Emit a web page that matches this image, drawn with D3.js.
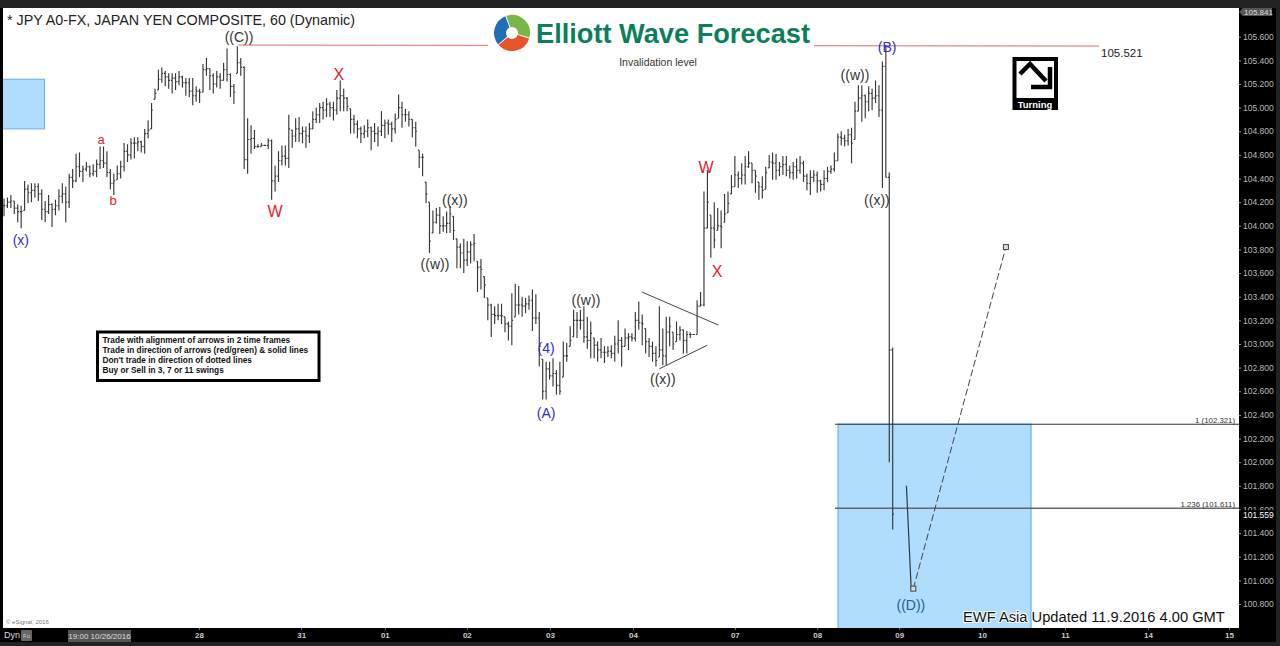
<!DOCTYPE html>
<html>
<head>
<meta charset="utf-8">
<script src="https://cdn.jsdelivr.net/npm/d3@7"></script>
<style>
html, body { margin: 0; padding: 0; background: #000; }
svg { display: block; }
text { font-family: "Liberation Sans", Arial, sans-serif; }
</style>
</head>
<body>
<svg id="chart" width="1280" height="646"></svg>
<script>
// hourly bars, left to right
let highs = [104.23,104.24,104.26,104.21,104.18,104.17,104.38,104.35,104.36,104.36,104.36,104.31,104.21,104.26,104.19,104.22,104.31,104.36,104.33,104.44,
104.48,104.61,104.62,104.51,104.54,104.51,104.52,104.56,104.67,104.67,104.63,104.48,104.44,104.51,104.55,104.70,104.69,104.74,104.75,104.75,
104.72,104.82,104.89,105.04,105.16,105.32,105.34,105.31,105.29,105.29,105.29,105.31,105.27,105.25,105.25,105.25,105.18,105.16,105.37,105.42,
105.33,105.29,105.31,105.29,105.38,105.50,105.29,105.20,105.52,105.42,105.35,104.91,104.85,104.81,104.69,104.70,104.68,104.74,104.73,104.51,
104.63,104.68,104.68,104.94,104.81,104.91,104.92,104.84,104.84,104.87,104.97,105.00,105.04,105.05,105.08,105.05,105.05,105.15,105.23,105.16,
105.09,104.99,104.94,104.89,104.84,104.85,104.90,104.84,104.87,104.84,104.97,104.90,104.90,104.88,104.95,105.11,105.05,104.99,104.97,104.90,
104.88,104.64,104.61,104.37,104.20,104.13,104.15,104.16,104.08,104.12,104.17,104.08,103.89,103.85,103.89,103.87,103.87,103.93,103.70,103.72,
103.57,103.39,103.34,103.32,103.34,103.34,103.23,103.19,103.43,103.51,103.49,103.40,103.39,103.41,103.46,103.42,103.27,102.87,102.85,102.85,
102.88,102.78,102.85,103.02,103.01,103.15,103.29,103.27,103.29,103.32,103.23,103.19,103.05,103.02,103.05,102.98,102.98,102.99,103.07,103.20,
103.06,103.13,103.09,103.09,103.27,103.36,103.25,103.13,103.05,103.02,102.98,103.32,103.13,103.23,103.23,103.10,103.19,103.15,103.12,103.11,
103.10,103.08,103.37,103.44,104.29,104.47,104.09,104.20,104.15,104.13,104.27,104.29,104.43,104.59,104.46,104.53,104.59,104.63,104.53,104.47,
104.37,104.42,104.50,104.60,104.62,104.61,104.54,104.59,104.59,104.51,104.54,104.57,104.59,104.55,104.44,104.47,104.47,104.46,104.39,104.47,
104.50,104.51,104.62,104.78,104.80,104.77,104.82,104.83,105.05,105.19,105.19,105.11,105.18,105.16,105.23,105.19,105.39,105.53,104.45,102.97]

let lows = [104.08,104.15,104.15,104.10,104.03,103.98,104.13,104.19,104.20,104.24,104.21,104.05,104.03,104.10,103.99,104.09,104.13,104.19,104.03,104.15,
104.32,104.37,104.41,104.37,104.46,104.41,104.42,104.41,104.48,104.49,104.41,104.31,104.26,104.39,104.40,104.46,104.54,104.56,104.57,104.63,
104.62,104.61,104.74,104.82,105.07,105.15,105.21,105.18,105.16,105.12,105.15,105.19,105.17,105.10,105.09,105.02,105.05,105.04,105.13,105.27,
105.15,105.12,105.17,105.16,105.23,105.22,105.09,105.03,105.29,105.27,104.48,104.44,104.61,104.65,104.66,104.67,104.68,104.65,104.22,104.29,
104.37,104.51,104.51,104.49,104.66,104.71,104.71,104.70,104.66,104.70,104.82,104.87,104.87,104.90,104.92,104.92,104.89,104.94,104.97,104.97,
104.97,104.78,104.78,104.74,104.70,104.74,104.75,104.64,104.71,104.67,104.76,104.74,104.77,104.71,104.78,104.91,104.83,104.88,104.84,104.75,
104.67,104.49,104.42,104.19,103.77,103.94,104.02,103.93,103.95,103.94,103.94,103.88,103.64,103.64,103.60,103.66,103.68,103.70,103.44,103.46,
103.39,103.20,103.06,103.17,103.20,103.17,103.10,103.03,102.99,103.23,103.25,103.23,103.26,103.29,103.11,103.17,102.81,102.53,102.53,102.70,
102.64,102.57,102.57,102.72,102.85,102.98,103.06,103.05,103.12,103.01,102.96,102.88,102.88,102.85,102.88,102.84,102.89,102.88,102.85,102.92,
102.81,102.98,102.95,103.02,103.02,103.12,102.99,102.92,102.89,102.85,102.81,102.89,102.82,102.82,102.98,102.95,103.02,103.03,102.92,102.92,
103.05,103.08,103.08,103.32,103.32,103.98,103.73,103.81,103.96,103.81,104.03,104.11,104.27,104.33,104.32,104.35,104.35,104.49,104.36,104.28,
104.22,104.23,104.31,104.49,104.39,104.39,104.42,104.43,104.42,104.40,104.39,104.40,104.44,104.37,104.30,104.26,104.37,104.28,104.29,104.30,
104.37,104.44,104.46,104.55,104.68,104.67,104.68,104.53,104.73,104.97,104.88,104.91,104.97,104.98,105.04,104.92,104.32,104.41,102.00,101.43]

let closes = [104.17,104.20,104.21,104.15,104.12,104.12,104.31,104.28,104.30,104.33,104.27,104.14,104.12,104.18,104.14,104.17,104.25,104.27,104.20,104.41,
104.38,104.50,104.46,104.48,104.50,104.44,104.46,104.52,104.55,104.53,104.45,104.36,104.38,104.44,104.50,104.63,104.60,104.70,104.70,104.71,
104.67,104.78,104.81,104.98,105.12,105.24,105.29,105.26,105.23,105.25,105.22,105.26,105.21,105.21,105.14,105.10,105.14,105.13,105.32,105.33,
105.27,105.20,105.26,105.23,105.32,105.28,105.18,105.13,105.38,105.34,104.56,104.73,104.74,104.67,104.67,104.68,104.68,104.72,104.38,104.42,
104.55,104.59,104.57,104.82,104.76,104.82,104.78,104.80,104.76,104.82,104.90,104.94,105.00,104.98,105.03,105.00,104.98,105.08,105.10,105.08,
105.01,104.90,104.86,104.82,104.78,104.80,104.83,104.80,104.78,104.80,104.85,104.87,104.86,104.82,104.90,105.00,104.94,104.94,104.90,104.83,
104.80,104.58,104.58,104.27,103.87,104.03,104.09,104.00,104.00,104.02,104.10,103.96,103.82,103.77,103.71,103.78,103.84,103.85,103.65,103.63,
103.50,103.33,103.25,103.24,103.24,103.24,103.17,103.15,103.20,103.33,103.33,103.32,103.34,103.37,103.22,103.22,102.98,102.60,102.79,102.73,
102.75,102.65,102.60,102.90,102.90,103.03,103.20,103.20,103.20,103.06,103.03,103.09,102.99,102.95,102.93,102.93,102.94,102.92,103.00,103.03,
102.98,103.05,103.06,103.05,103.20,103.18,103.17,103.02,102.98,102.92,102.86,102.95,102.90,103.10,103.15,103.00,103.08,103.12,103.03,103.08,
103.08,103.08,103.32,103.33,103.98,104.20,103.98,103.88,104.00,103.99,104.10,104.19,104.33,104.43,104.40,104.43,104.50,104.53,104.47,104.42,
104.33,104.30,104.45,104.54,104.53,104.47,104.50,104.52,104.47,104.45,104.50,104.47,104.53,104.42,104.36,104.41,104.43,104.38,104.35,104.40,
104.46,104.48,104.55,104.75,104.74,104.72,104.77,104.70,104.97,105.08,105.10,105.05,105.12,105.08,105.10,104.98,105.35,104.41,102.95,101.56]

let priceTicks = [105.6,105.4,105.2,105,104.8,104.6,104.4,104.2,104,103.8,103.6,103.4,103.2,103,102.8,102.6,102.4,102.2,102,101.8,101.6,101.4,101.2,101,100.8]
let dayLabels = ['28','31','01','02','03','04','07','08','09','10','11','14','15']
let dayBars = [56.8,86.6,111,134.9,159.1,183.3,213,237,260.9,285,309.2,333.4,357]

// wave labels
let waveTexts = ['(x)','a','b','((C))','W','X','((x))','((w))','(4)','(A)','((w))','((x))','W','X','((w))','(B)','((x))','((D))']
let waveBars = [4.9,28.3,31.8,68.5,79,97.6,131.4,125.6,158,158,169.6,192,204.6,207.8,248,257.4,254.4,264.3]
let wavePrices = [103.88,104.73,104.21,105.6,104.12,105.28,104.22,103.68,102.97,102.42,103.37,102.70,104.49,103.61,105.28,105.51,104.22,100.79]
let waveDegrees = ['minor','sub','sub','major','sub','sub','major','major','minor','minor','major','major','sub','sub','major','minor','major','target']

// projected path and levels
let invalidation = 105.521
let fibPrices = [102.321,101.611]
let fibTexts = ['1 (102.321)','1.236 (101.611)']
let lastPrice = 101.559
let topPrice = 105.841
let trianglePrices = [[103.44,103.16],[102.79,102.99]]
let triangleBars = [[185.9,208.2],[191,205]]
let pathBars = [263,264.4,265,292]
let pathPrices = [101.8,100.92,100.93,103.82]
let rules = ['Trade with alignment of arrows in 2 time frames','Trade in direction of arrows (red/green) & solid lines',"Don't trade in direction of dotted lines",'Buy or Sell in 3, 7 or 11 swings']

const plot = { left: 3, right: 1239, top: 8, bottom: 628 }
const degreeColor = { minor: '#2b2fd0', sub: '#e3202c', major: '#333', target: '#1d5f96' }

let svg = d3.select('#chart')
let x = d3.scaleLinear().domain([0, 259]).range([4, 892.7])
let y = d3.scaleLinear().domain([105.6, 100.8]).range([36.7, 604])

// frame
svg.append('rect').attr('width', 1280).attr('height', 646).attr('fill', '#000')
svg.append('rect').attr('width', 1280).attr('height', 8).attr('fill', '#222')
svg.append('rect').attr('x', 1276).attr('width', 4).attr('height', 646).attr('fill', '#222')
svg.append('rect').attr('y', 642).attr('width', 1280).attr('height', 4).attr('fill', '#222')
svg.append('rect')
    .attr('x', plot.left).attr('y', plot.top)
    .attr('width', plot.right - plot.left).attr('height', plot.bottom - plot.top)
    .attr('fill', '#fff')

svg.append('defs').append('clipPath').attr('id', 'plot')
    .append('rect')
    .attr('x', plot.left).attr('y', plot.top)
    .attr('width', plot.right - plot.left).attr('height', plot.bottom - plot.top)

let g = svg.append('g').attr('clip-path', 'url(#plot)')

// blue zones
g.append('rect')
    .attr('x', plot.left - 2).attr('y', y(105.24))
    .attr('width', x(11.8) - plot.left + 2).attr('height', y(104.82) - y(105.24))
    .attr('fill', '#b0dcfe').attr('stroke', '#62aef0')
g.append('rect')
    .attr('x', x(243.1)).attr('y', y(fibPrices[0]))
    .attr('width', x(299.3) - x(243.1)).attr('height', plot.bottom + 2 - y(fibPrices[0]))
    .attr('fill', '#b0dcfe').attr('stroke', '#7abcf4').attr('stroke-width', 1.5)

// invalidation level, the logo patch sits on top of it
g.append('line')
    .attr('x1', x(68.3)).attr('x2', 1099)
    .attr('y1', y(invalidation) - 1).attr('y2', y(invalidation))
    .attr('stroke', '#e06a6a')

// fib levels
fibPrices.forEach((p, i) => {
    g.append('line')
        .attr('x1', 835).attr('x2', plot.right)
        .attr('y1', y(p)).attr('y2', y(p))
        .attr('stroke', i === 0 ? '#333' : '#666')
        .attr('stroke-width', i === 0 ? 1 : 1.5)
    g.append('text')
        .attr('x', 1235).attr('y', y(p) - 1.5)
        .attr('text-anchor', 'end').attr('font-size', 7.8).attr('fill', '#333')
        .text(fibTexts[i])
})

// OHLC bars
let bars = g.append('g').attr('stroke', '#383838').attr('stroke-width', 1.15).attr('fill', 'none')
    .selectAll('path')
    .data(d3.range(highs.length))
    .join('path')
    .attr('d', i => {
        let px = x(i)
        let open = i === 0 ? closes[0] : Math.max(lows[i], Math.min(highs[i], closes[i - 1]))
        return 'M' + px + ',' + y(highs[i]) + 'V' + y(lows[i]) +
            'M' + (px - 1.3) + ',' + y(open) + 'H' + px +
            'M' + px + ',' + y(closes[i]) + 'H' + (px + 1.3)
    })

// triangle
trianglePrices.forEach((p, i) => {
    g.append('line')
        .attr('x1', x(triangleBars[i][0])).attr('y1', y(p[0]))
        .attr('x2', x(triangleBars[i][1])).attr('y2', y(p[1]))
        .attr('stroke', '#444')
})

// projected path
g.append('line')
    .attr('x1', x(pathBars[0])).attr('y1', y(pathPrices[0]))
    .attr('x2', x(pathBars[1])).attr('y2', y(pathPrices[1]))
    .attr('stroke', '#2b3a44').attr('stroke-width', 1.2)
g.append('line')
    .attr('x1', x(pathBars[2])).attr('y1', y(pathPrices[2]))
    .attr('x2', x(pathBars[3])).attr('y2', y(pathPrices[3]))
    .attr('stroke', '#444').attr('stroke-dasharray', '7,3')
g.selectAll('rect.node')
    .data([2, 3])
    .join('rect')
    .attr('class', 'node')
    .attr('x', i => x(pathBars[i]) - 2.5).attr('y', i => y(pathPrices[i]) - 2.5)
    .attr('width', 5).attr('height', 5)
    .attr('fill', '#ddd').attr('stroke', '#444')

// wave labels, the capital W and X are set a little larger
g.selectAll('text.wave')
    .data(d3.range(waveTexts.length))
    .join('text')
    .attr('class', 'wave')
    .attr('x', i => x(waveBars[i])).attr('y', i => y(wavePrices[i]))
    .attr('text-anchor', 'middle').attr('dominant-baseline', 'central')
    .attr('font-size', i => waveTexts[i] === 'W' || waveTexts[i] === 'X' ? 16 : waveTexts[i].length === 1 ? 13 : 14)
    .attr('fill', i => degreeColor[waveDegrees[i]])
    .text(i => waveTexts[i])

// logo
let logo = svg.append('g')
logo.append('rect').attr('x', 488).attr('y', 12).attr('width', 326).attr('height', 42).attr('fill', '#fff')
let swirl = d3.arc().innerRadius(6).outerRadius(18)
let swirlG = logo.append('g').attr('transform', 'translate(512,33)')
let swirlParts = [[-0.35, 1.85, '#7ab648'], [1.85, 4.0, '#e8532b'], [4.0, 5.93, '#1f6fb5']]
swirlParts.forEach(s => {
    swirlG.append('path')
        .attr('d', swirl({ startAngle: s[0], endAngle: s[1], padAngle: 0.05 }))
        .attr('fill', s[2])
})
logo.append('text')
    .attr('x', 536).attr('y', 43)
    .attr('font-size', 27).attr('font-weight', 'bold')
    .attr('textLength', 274).attr('lengthAdjust', 'spacingAndGlyphs')
    .attr('fill', '#0b7f5d')
    .text('Elliott Wave Forecast')

svg.append('text').attr('x', 658).attr('y', 66).attr('text-anchor', 'middle')
    .attr('font-size', 10.5).attr('fill', '#333').text('Invalidation level')

// title
svg.append('text').attr('x', 7).attr('y', 25)
    .attr('font-size', 14.3).attr('fill', '#222')
    .text('* JPY A0-FX, JAPAN YEN COMPOSITE, 60 (Dynamic)')

svg.append('text').attr('x', 1101).attr('y', 57)
    .attr('font-size', 11.5).attr('fill', '#222')
    .text(invalidation.toFixed(3))

// turning badge
let badge = svg.append('g')
badge.append('rect').attr('x', 1012.5).attr('y', 57).attr('width', 45.5).attr('height', 53).attr('fill', '#000')
badge.append('rect').attr('x', 1016.5).attr('y', 61).attr('width', 37.5).attr('height', 37).attr('fill', '#fff')
badge.append('path').attr('d', 'M1020,74L1030,64L1046,81').attr('fill', 'none').attr('stroke', '#000').attr('stroke-width', 4.5)
badge.append('path').attr('d', 'M1050,67V87H1031').attr('fill', 'none').attr('stroke', '#000').attr('stroke-width', 4.5)
badge.append('text').attr('x', 1035).attr('y', 108).attr('text-anchor', 'middle')
    .attr('font-size', 9.5).attr('font-weight', 'bold').attr('fill', '#fff').text('Turning')

// trading rules box
let rulesBox = svg.append('g')
rulesBox.append('rect').attr('x', 97.5).attr('y', 332).attr('width', 221.5).attr('height', 48.5)
    .attr('fill', '#fff').attr('stroke', '#000').attr('stroke-width', 3)
rulesBox.selectAll('text')
    .data(rules)
    .join('text')
    .attr('x', 102.5).attr('y', (d, i) => 342.5 + i * 10.2)
    .attr('font-size', 8.3).attr('font-weight', 'bold').attr('fill', '#111')
    .text(d => d)

// update note
svg.append('text').attr('x', 963).attr('y', 622)
    .attr('font-size', 14.7).attr('fill', '#111')
    .attr('stroke', '#fff').attr('stroke-width', 2).attr('paint-order', 'stroke')
    .text('EWF Asia Updated 11.9.2016 4.00 GMT')

svg.append('text').attr('x', 6).attr('y', 624).attr('font-size', 6).attr('fill', '#777').text('© eSignal, 2016')

// right axis
let yAxis = d3.axisRight(y).tickValues(priceTicks).tickFormat(d3.format('.3f')).tickSize(2).tickPadding(2)
let yg = svg.append('g').attr('transform', 'translate(' + plot.right + ',0)').call(yAxis)
yg.select('.domain').remove()
yg.selectAll('line').attr('stroke', '#999')
yg.selectAll('text').attr('fill', '#bbb').attr('font-size', 8.5)
    .style('font-family', '"Liberation Sans"')

svg.append('path')
    .attr('d', 'M1239,12L1243,8H1272V16H1243Z')
    .attr('fill', '#555')
svg.append('text').attr('x', 1244).attr('y', 15).attr('font-size', 8).attr('fill', '#ddd').text(topPrice.toFixed(3))

// the last price box covers the lower half of the 101.600 tick, as in the chart
svg.append('rect').attr('x', 1240).attr('y', y(lastPrice) - 4).attr('width', 34).attr('height', 10).attr('fill', '#000')
svg.append('text').attr('x', 1243).attr('y', y(lastPrice) + 4).attr('font-size', 8.5).attr('fill', '#fff').text(lastPrice.toFixed(3))

// bottom axis
let xAxis = d3.axisBottom(x).tickValues(dayBars).tickFormat((d, i) => dayLabels[i]).tickSize(2).tickPadding(2)
let xg = svg.append('g').attr('transform', 'translate(0,' + plot.bottom + ')').call(xAxis)
xg.select('.domain').remove()
xg.selectAll('line').attr('stroke', '#777')
xg.selectAll('text').attr('fill', '#ccc').attr('font-size', 8).attr('font-weight', 'bold')
    .style('font-family', '"Liberation Sans"')

svg.append('rect').attr('x', 68).attr('y', 630).attr('width', 63).attr('height', 12).attr('fill', '#555')
svg.append('text').attr('x', 99.5).attr('y', 639).attr('text-anchor', 'middle').attr('font-size', 8).attr('fill', '#ddd').text('19:00 10/26/2016')
svg.append('text').attr('x', 4).attr('y', 638).attr('font-size', 9).attr('fill', '#ddd').text('Dyn')
svg.append('rect').attr('x', 21).attr('y', 630).attr('width', 11).attr('height', 11).attr('rx', 1).attr('fill', '#666')
svg.append('text').attr('x', 26.5).attr('y', 638).attr('text-anchor', 'middle').attr('font-size', 6).attr('fill', '#ccc').text('Fo')
</script>
</body>
</html>
